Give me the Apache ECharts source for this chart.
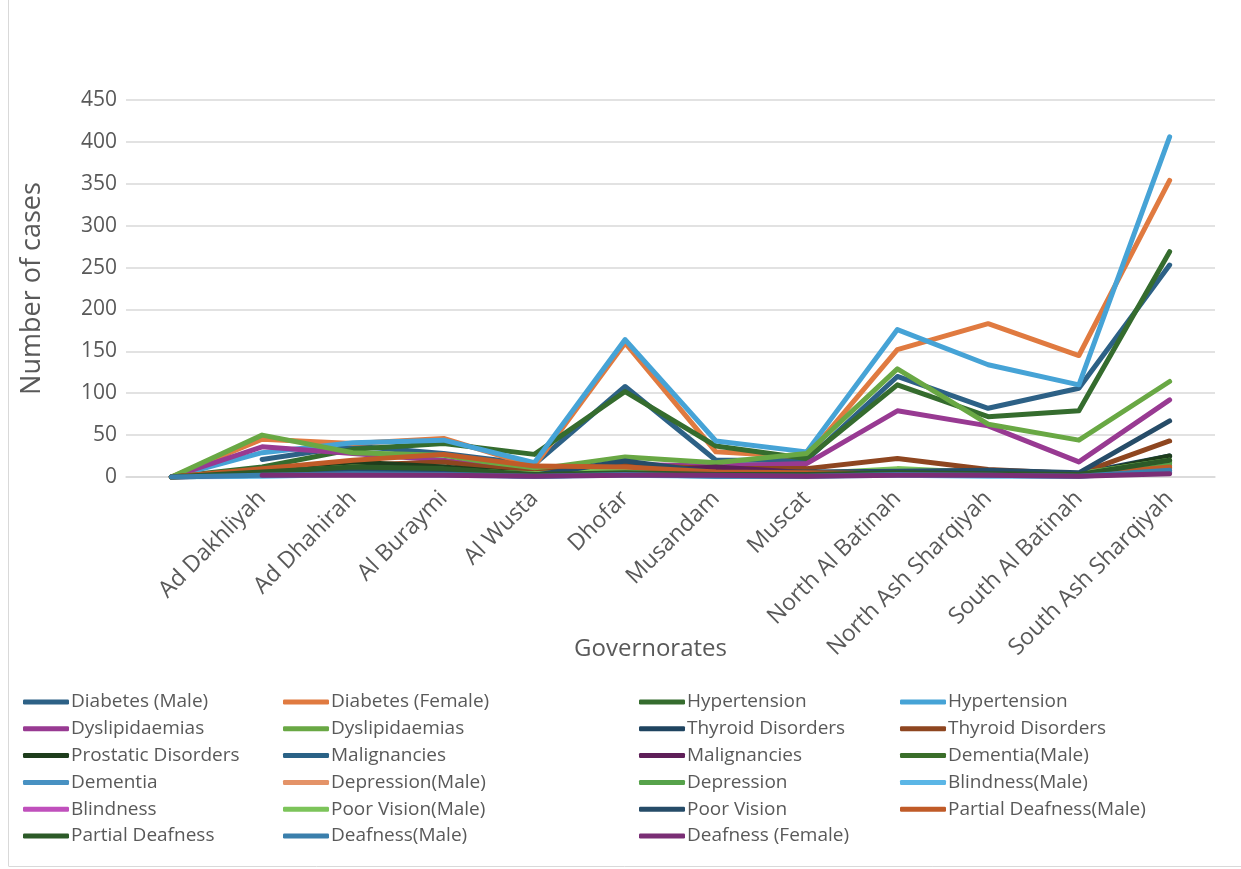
<!DOCTYPE html>
<html>
<head>
<meta charset="utf-8">
<script src="https://cdn.jsdelivr.net/npm/echarts@6/dist/echarts.min.js"></script>
<style>
  html, body { margin: 0; padding: 0; background: #ffffff; }
  #chart { width: 1241px; height: 869px; }
</style>
</head>
<body>
<div id="chart"></div>
<script>
// Governorates (first slot is an unlabeled origin column)
const categories = ['', 'Ad Dakhliyah', 'Ad Dhahirah', 'Al Buraymi', 'Al Wusta', 'Dhofar',
  'Musandam', 'Muscat', 'North Al Batinah', 'North Ash Sharqiyah', 'South Al Batinah',
  'South Ash Sharqiyah'];

const yTicks = { min: 0, max: 450, interval: 50 };

// Cases per governorate, one array per series
const diabetesMale        = [null, 21, 37, 28, 15, 108, 20, 20, 120, 82, 106, 253];
const diabetesFemale      = [0, 45, 40, 46, 13, 160, 30, 24, 152, 183, 145, 354];
const hypertensionMale    = [0, 12, 33, 40, 27, 102, 37, 22, 110, 72, 79, 269];
const hypertensionFemale  = [0, 29, 41, 44, 17, 164, 43, 30, 176, 134, 110, 406];
const dyslipMale          = [0, 36, 28, 20, 6, 15, 13, 16, 79, 61, 18, 92];
const dyslipFemale        = [0, 50, 29, 26, 9, 24, 17, 28, 129, 63, 44, 114];
const thyroidMale         = [0, 4, 8, 7, 2, 8, 4, 4, 8, 6, 4, 25];
const thyroidFemale       = [0, 8, 14, 18, 5, 14, 10, 10, 22, 9, 4, 43];
const prostatic           = [0, 8, 18, 12, 3, 6, 4, 3, 4, 3, 2, 25];
const malignanciesMale    = [0, 3, 6, 5, 2, 7, 5, 4, 6, 5, 4, 14];
const malignanciesFemale  = [0, 2, 4, 4, 1, 6, 12, 5, 3, 2, 2, 6];
const dementiaMale        = [0, 2, 5, 5, 2, 4, 2, 2, 4, 3, 2, 18];
const dementiaFemale      = [0, 2, 4, 4, 1, 3, 2, 2, 4, 3, 2, 10];
const depressionMale      = [0, 3, 6, 6, 2, 5, 3, 3, 5, 3, 2, 12];
const depressionFemale    = [0, 5, 10, 9, 3, 8, 4, 4, 6, 4, 3, 16];
const blindnessMale       = [0, 1, 3, 2, 1, 2, 1, 1, 2, 1, 1, 6];
const blindnessFemale     = [0, 3, 7, 6, 2, 4, 2, 2, 5, 3, 2, 8];
const poorVisionMale      = [0, 5, 12, 8, 4, 9, 4, 4, 10, 5, 4, 20];
const poorVisionFemale    = [0, 4, 8, 6, 2, 19, 5, 6, 7, 8, 5, 67];
const partialDeafMale     = [0, 10, 20, 27, 13, 12, 6, 5, 4, 3, 2, 12];
const partialDeafFemale   = [0, 6, 12, 10, 3, 5, 3, 3, 5, 4, 3, 20];
const deafnessMale        = [0, 2, 4, 3, 1, 3, 1, 1, 3, 2, 1, 8];
const deafnessFemale      = [null, 2, 2, 2, 1, 2, 2, 1, 2, 2, 1, 4];

// Series: legend label, values, line colour
const seriesDefs = [
  ['Diabetes (Male)', diabetesMale, '#2d6186'],
  ['Diabetes (Female)', diabetesFemale, '#e07a40'],
  ['Hypertension', hypertensionMale, '#356c2e'],
  ['Hypertension ', hypertensionFemale, '#46a3d6'],
  ['Dyslipidaemias', dyslipMale, '#983a92'],
  ['Dyslipidaemias ', dyslipFemale, '#69a844'],
  ['Thyroid Disorders', thyroidMale, '#1f4460'],
  ['Thyroid Disorders ', thyroidFemale, '#8e4620'],
  ['Prostatic Disorders', prostatic, '#1e3d1c'],
  ['Malignancies', malignanciesMale, '#2a6286'],
  ['Malignancies ', malignanciesFemale, '#5e1f58'],
  ['Dementia(Male)', dementiaMale, '#3a6e2a'],
  ['Dementia', dementiaFemale, '#4891c2'],
  ['Depression(Male)', depressionMale, '#e49368'],
  ['Depression', depressionFemale, '#56a24a'],
  ['Blindness(Male)', blindnessMale, '#5bb6e6'],
  ['Blindness', blindnessFemale, '#c050bc'],
  ['Poor Vision(Male)', poorVisionMale, '#7cc45a'],
  ['Poor Vision', poorVisionFemale, '#264c68'],
  ['Partial Deafness(Male)', partialDeafMale, '#c05b28'],
  ['Partial Deafness', partialDeafFemale, '#2c5a28'],
  ['Deafness(Male)', deafnessMale, '#3a7fac'],
  ['Deafness (Female)', deafnessFemale, '#7a2e75']
];

const FONT = '"Open Sans", "Liberation Sans", sans-serif';
const TEXT = '#595959';

const series = seriesDefs.map(([name, data, color]) => ({
  name, type: 'line', data,
  symbol: 'none',
  connectNulls: false,
  lineStyle: { width: 5, color, cap: 'round', join: 'round' },
  itemStyle: { color },
  emphasis: { disabled: true },
  animation: false
}));

// Legend laid out in four columns, filled row by row
const colX = [18, 278, 634, 895];
const legends = colX.map((x, c) => ({
  orient: 'vertical',
  left: x,
  top: 687,
  itemGap: 6.8,
  itemWidth: 46,
  itemHeight: 5,
  icon: 'roundRect',
  selectedMode: false,
  textStyle: { fontFamily: FONT, fontSize: 19, lineHeight: 20, color: TEXT, padding: [0, 0, 0, -3] },
  data: seriesDefs.filter((_, i) => i % 4 === c).map(d => d[0])
}));

const chart = echarts.init(document.getElementById('chart'), null, { renderer: 'canvas' });
chart.setOption({
  backgroundColor: '#ffffff',
  animation: false,
  grid: { left: 126, right: 26, top: 100, bottom: 392, containLabel: false },
  legend: legends,
  xAxis: {
    type: 'category',
    data: categories,
    boundaryGap: true,
    name: 'Governorates',
    nameLocation: 'middle',
    nameGap: 160,
    nameMoveOverlap: false,
    nameTextStyle: { fontFamily: FONT, fontSize: 24, color: TEXT, padding: [0, 40, 0, 0] },
    axisLine: { lineStyle: { color: '#d9d9d9', width: 1.5 } },
    axisTick: { show: false },
    axisLabel: { interval: 0, rotate: 45, margin: 18, fontFamily: FONT, fontSize: 23, color: TEXT }
  },
  yAxis: {
    type: 'value',
    min: yTicks.min, max: yTicks.max, interval: yTicks.interval,
    name: 'Number of cases',
    nameLocation: 'middle',
    nameGap: 80,
    nameMoveOverlap: false,
    nameRotate: 90,
    nameTextStyle: { fontFamily: FONT, fontSize: 27, color: TEXT },
    axisLine: { show: false },
    axisTick: { show: false },
    axisLabel: { margin: 9, fontFamily: FONT, fontSize: 21, color: TEXT },
    splitLine: { lineStyle: { color: '#d9d9d9', width: 1.5 } }
  },
  graphic: [
    { type: 'line', shape: { x1: 8.5, y1: 0, x2: 8.5, y2: 866 }, style: { stroke: '#d9d9d9', lineWidth: 1 } },
    { type: 'line', shape: { x1: 8.5, y1: 866.5, x2: 1241, y2: 866.5 }, style: { stroke: '#d9d9d9', lineWidth: 1 } }
  ],
  series
});
</script>
</body>
</html>
